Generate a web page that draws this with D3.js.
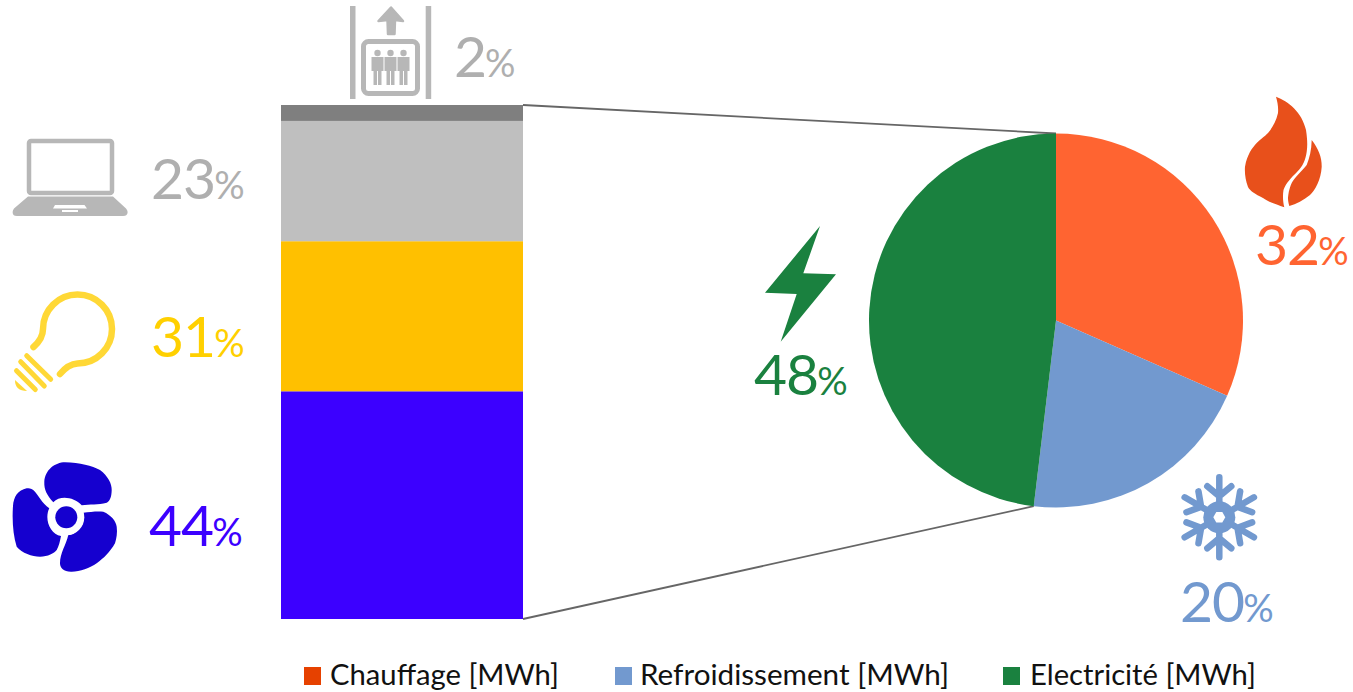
<!DOCTYPE html>
<html>
<head>
<meta charset="utf-8">
<script src="https://cdn.jsdelivr.net/npm/d3@7"></script>
<style>
    html, body { margin: 0; padding: 0; background: #fff; overflow: hidden; }
    text { font-family: Lato, "Open Sans", sans-serif; }
</style>
</head>
<body>
<div id="chart"></div>
<script>
// Stacked bar, bottom to top (bar heights as measured, labels as printed)
const barUses = ["Ventilation", "Eclairage", "Bureautique", "Ascenseur"];
const barValues = [44.3, 29.2, 23.4, 3.1];
const barLabels = ["44", "31", "23", "2"];

// Pie, clockwise from 12 o'clock
const pieSeries = ["Chauffage [MWh]", "Refroidissement [MWh]", "Electricité [MWh]"];
const pieValues = [31.6, 20.3, 48.1];
const pieLabels = ["32", "20", "48"];

// Colours
const barColors = ["#3c00ff", "#ffc000", "#bfbfbf", "#7f7f7f"];
const barTextColors = ["#3c00ff", "#ffd000", "#afafaf", "#afafaf"];
const pieColors = ["#ff6431", "#7299cf", "#1a813f"];
const legendColors = ["#e64100", "#7299cf", "#1a813f"];

const width = 1353;
const height = 692;

const svg = d3.select("#chart")
    .append("svg")
    .attr("width", width)
    .attr("height", height);

// Scales for the bar
const x = d3.scaleLinear().domain([0, 1]).range([281, 523]);
const y = d3.scaleLinear().domain([0, 100]).range([619, 105]);
const tops = Array.from(d3.cumsum(barValues));

// Connector lines go under the pie
const pieCx = 1056;
const pieCy = 320.5;
const pieR = 187;
const pieArcs = d3.pie().sort(null).value(d => d)(pieValues);
const arc = d3.arc().innerRadius(0).outerRadius(pieR);

function rimPoint(angle) {
    return [pieCx + pieR * Math.sin(angle), pieCy - pieR * Math.cos(angle)];
}

const connectors = [
    [[x(1), y(d3.sum(barValues))], rimPoint(pieArcs[0].startAngle)],
    [[x(1), y(0)], rimPoint(pieArcs[1].endAngle)]
];
svg.selectAll(".connector")
    .data(connectors)
    .join("path")
    .attr("class", "connector")
    .attr("d", d => d3.line()(d))
    .attr("fill", "none")
    .attr("stroke", "#666")
    .attr("stroke-width", 1.8);

// Bar segments
svg.selectAll(".segment")
    .data(barValues)
    .join("rect")
    .attr("class", "segment")
    .attr("x", x(0))
    .attr("width", x(1) - x(0))
    .attr("y", (d, i) => y(tops[i]))
    .attr("height", d => y(0) - y(d))
    .attr("fill", (d, i) => barColors[i]);

// Pie slices
svg.append("g")
    .attr("transform", `translate(${pieCx}, ${pieCy})`)
    .selectAll("path")
    .data(pieArcs)
    .join("path")
    .attr("d", arc)
    .attr("fill", (d, i) => pieColors[i]);

// Big number with a small percent sign
function addLabel(label, px, py, color) {
    const t = svg.append("text")
        .attr("x", px)
        .attr("y", py)
        .attr("fill", color)
        .attr("font-size", 57)
        .attr("letter-spacing", -1)
        .text(label);
    t.append("tspan")
        .attr("font-size", 38)
        .attr("letter-spacing", 0)
        .attr("dx", -1)
        .text("%");
}

const barLabelPos = [[149, 546], [151, 357], [151, 199], [454, 77]];
barLabels.forEach((d, i) => addLabel(d, barLabelPos[i][0], barLabelPos[i][1], barTextColors[i]));

const pieLabelPos = [[1255, 265], [1180, 622], [754, 395]];
pieLabels.forEach((d, i) => addLabel(d, pieLabelPos[i][0], pieLabelPos[i][1], pieColors[i]));

// Icons
const grey = "#b7b7b7";

// laptop
svg.append("rect")
    .attr("x", 29).attr("y", 141).attr("width", 83).attr("height", 52).attr("rx", 2)
    .attr("fill", "none").attr("stroke", grey).attr("stroke-width", 4.5);
svg.append("path")
    .attr("fill-rule", "evenodd")
    .attr("fill", grey)
    .attr("d", "M28,196.5 L113,196.5 L126,208.5 Q129,212 126.5,215 Q125.5,216 123,216 L17,216 Q14.5,216 13.5,215 Q11.5,212 14,208.5 Z M55,205 L84.5,205 L87,208.5 L53,208.5 Z M62,210 L78,210 L78,212 L62,212 Z");

// elevator
[[350, 5.5], [425.7, 5.5]].forEach(d => {
    svg.append("rect").attr("x", d[0]).attr("y", 6).attr("width", d[1]).attr("height", 93).attr("fill", grey);
});
svg.append("path")
    .attr("fill", grey).attr("stroke", grey).attr("stroke-width", 2.5).attr("stroke-linejoin", "round")
    .attr("d", "M378.5,21 L391,7.5 L403,21 L395,20 L394.5,34 L388,34 L387.5,20 Z");
svg.append("rect")
    .attr("x", 363.5).attr("y", 41.5).attr("width", 54).attr("height", 52).attr("rx", 5)
    .attr("fill", "none").attr("stroke", grey).attr("stroke-width", 5);
[377.5, 390.5, 403.5].forEach(cx => {
    svg.append("circle").attr("cx", cx).attr("cy", 53).attr("r", 3.2).attr("fill", grey);
    svg.append("path").attr("fill", grey)
        .attr("d", `M${cx - 6},57 h12 v14 h-2 v14 h-3.5 v-14 h-1 v14 h-3.5 v-14 h-2 Z`);
});

// bulb
const bulb = "#ffd836";
svg.append("path")
    .attr("fill", "none").attr("stroke", bulb).attr("stroke-width", 6.5).attr("stroke-linecap", "round")
    .attr("d", "M33.5,347 C38,343 43,338 43,329 A34.5,34.5 0 1 1 77.5,363.5 C70,364 65,368 60,374");
[[26.7, 355.7, 50.7, 379.3], [20.7, 361.7, 44.3, 386], [16.5, 370.7, 35.3, 389.5]].forEach(d => {
    svg.append("line")
        .attr("x1", d[0]).attr("y1", d[1]).attr("x2", d[2]).attr("y2", d[3])
        .attr("stroke", bulb).attr("stroke-width", 5).attr("stroke-linecap", "round");
});
svg.append("path").attr("fill", bulb).attr("d", "M15,380 L27,391 Q15,391 15,380 Z");

// fan
const fan = "#1500cf";
svg.append("path").attr("fill", fan)
    .attr("d", "M53.3,502.3 C47,495 44,490 44.3,481.7 C45,470 55,462.3 65,462.3 C80,462.5 92,466 100,470 C108,476 112,484 111.7,490 C111.5,497 110,501 106.7,502.7 C98,505 90,504 81.7,505.3 C74,497 60,495 53.3,502.3 Z");
svg.append("path").attr("fill", fan)
    .attr("d", "M49.3,508.3 C42,503 38,495 35,491.7 C32,488 29,488 26.7,488.3 C18,490 13.5,497 13,506 C12,520 13,535 16.7,546.7 C22,553 32,556.7 40,556.7 C48,556.5 54,553.5 56.7,550 C59,546 60,541 61,536 C50,534 44,519 49.3,508.3 Z");
svg.append("path").attr("fill", fan)
    .attr("d", "M83.3,512.7 C90,512 97,511 103.3,511.7 C111,515 116,521 116.7,526.7 C117.5,533 116.5,538 115,543.3 C110,552 104,558 96.7,563.3 C90,568 80,571.7 71.7,571.7 C64,572 60,568 60,563.3 C60,553 66,545 68.3,535 C76,535 86,524 83.3,512.7 Z");
svg.append("circle").attr("cx", 66.3).attr("cy", 517.3).attr("r", 18).attr("fill", "#fff");
svg.append("circle").attr("cx", 66.3).attr("cy", 517.3).attr("r", 11).attr("fill", fan);

// flame
const flame = "#e8501b";
svg.append("path").attr("fill", flame)
    .attr("d", "M1276,96.7 C1288,101 1302,112 1306,130 C1307.5,140 1307.5,146 1306.7,151.7 C1305.5,160 1303,166 1297,172 C1291,178 1286,183 1283.5,190 C1282.5,196 1283,202 1284.3,207.3 C1276,204 1268,202 1263,198 C1255,194 1250,191 1248,187 C1245.5,180 1244.5,173 1245,166.7 C1247,155 1252,148 1256.7,143 C1262,138 1265,136 1268,133 C1272,128 1276,122 1278,113 C1278.5,107 1277.5,102 1276,96.7 Z");
svg.append("path").attr("fill", flame)
    .attr("d", "M1311.7,140 C1318,148 1322,157 1321.7,166.7 C1321,180 1315,190 1310,195 C1304,200 1296,204 1289.3,206 C1288.3,202 1287.5,199 1288.3,195 C1289,190 1290,187 1291.7,183 C1295,177 1302,171 1306.7,165 C1309.5,158 1311.5,150 1311.7,140 Z");

// snowflake
const snow = svg.append("g")
    .attr("transform", "translate(1219.3, 517.3)")
    .attr("stroke", "#7299cf").attr("stroke-width", 6.5).attr("stroke-linecap", "round").attr("fill", "none");
d3.range(6).forEach(i => {
    snow.append("path")
        .attr("transform", `rotate(${i * 60})`)
        .attr("d", "M0,-12 L0,-40 M-12,-31 L0,-21 L12,-31");
});
snow.append("circle").attr("r", 16).attr("stroke", "none").attr("fill", "#7299cf");
svg.append("path")
    .attr("fill", "#fff")
    .attr("transform", "translate(1219.3, 517.3)")
    .attr("d", d3.line()(d3.range(6).map(i => [6 * Math.cos(i * Math.PI / 3), 6 * Math.sin(i * Math.PI / 3)])) + "Z");

// lightning bolt
svg.append("path")
    .attr("fill", "#1a813f")
    .attr("d", "M820,226 L765,292.7 L796.7,294 L780.7,341.7 L836,274.3 L803.3,273.3 Z");

// Legend
const legendSwatchX = [304, 615, 1003];
const legendTextX = [330, 640, 1030];
const legendTextW = [229, 309, 226];
const legend = svg.selectAll(".legend-item")
    .data(pieSeries)
    .join("g")
    .attr("class", "legend-item");
legend.append("rect")
    .attr("x", (d, i) => legendSwatchX[i])
    .attr("y", 667)
    .attr("width", 17)
    .attr("height", 18)
    .attr("fill", (d, i) => legendColors[i]);
legend.append("text")
    .attr("x", (d, i) => legendTextX[i])
    .attr("y", 685)
    .attr("font-size", 28)
    .attr("fill", "#111")
    .attr("textLength", (d, i) => legendTextW[i])
    .attr("lengthAdjust", "spacingAndGlyphs")
    .text(d => d);
</script>
</body>
</html>
